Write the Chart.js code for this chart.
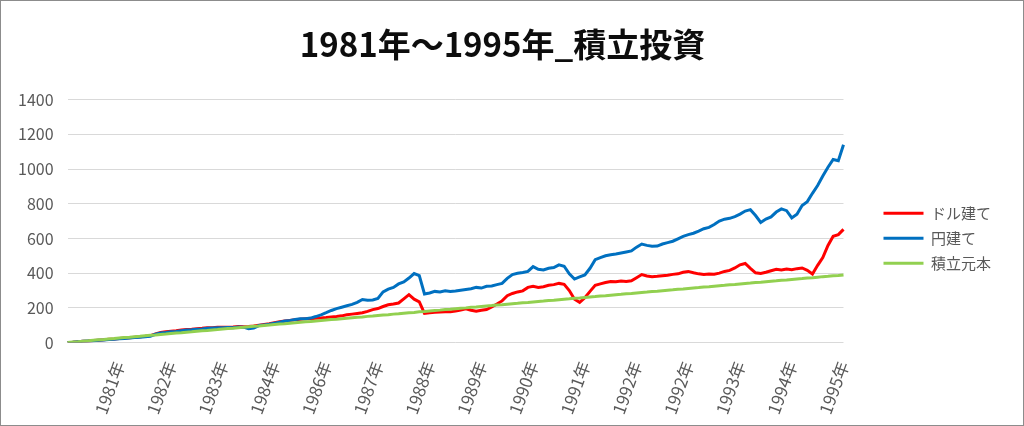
<!DOCTYPE html>
<html>
<head>
<meta charset="utf-8">
<script src="https://cdn.jsdelivr.net/npm/chart.js@4"></script>
<style>
  body { margin: 0; background: #fff; }
  #wrap { width: 1024px; height: 426px; box-sizing: border-box; border: 1px solid #8c8c8c; }
</style>
</head>
<body>
<div id="wrap"><canvas id="chart" width="1022" height="424"></canvas></div>
<script>
// x axis: one category per point, a year label on every 10th point
const yearLabels = ["1981年", "1982年", "1983年", "1984年", "1986年", "1987年", "1988年", "1989年",
  "1990年", "1991年", "1992年", "1992年", "1993年", "1994年", "1995年"];

const dollarValues = [
  0, 2, 5, 7, 9, 12, 14, 16, 19, 21,
  24, 26, 28, 31, 33, 36, 40, 50, 58, 62,
  65, 68, 72, 75, 77, 80, 82, 85, 86, 88,
  88, 89, 90, 92, 91, 92, 95, 100, 104, 108,
  114, 120, 124, 128, 131, 134, 137, 138, 140, 141,
  144, 148, 150, 154, 160, 164, 168, 172, 180, 190,
  196, 208, 218, 222, 228, 252, 276, 250, 235, 168,
  172, 175, 176, 178, 177, 182, 188, 195, 186, 180,
  186, 190, 205, 222, 240, 270, 283, 292, 298, 318,
  324, 318, 322, 330, 334, 341, 336, 300, 250, 232,
  258, 295, 330, 338, 346, 352, 350, 355, 352, 356,
  374, 392, 384, 380, 382, 385, 388, 393, 396, 405,
  410, 402, 396, 392, 395, 394, 400, 410, 416, 430,
  448, 456, 428, 402, 398, 405, 414, 422, 418, 424,
  420, 426, 430, 416, 395, 445, 490, 560, 612, 622,
  652
];

const yenValues = [
  0, 2, 5, 7, 9, 11, 14, 15, 18, 19,
  22, 24, 26, 29, 31, 33, 37, 48, 55, 58,
  62, 64, 68, 72, 74, 77, 79, 82, 84, 86,
  85, 87, 86, 90, 89, 80, 84, 98, 102, 106,
  112, 118, 124, 128, 133, 137, 138, 141, 150, 160,
  172, 185, 196, 204, 212, 220, 232, 248, 244, 246,
  254, 292, 308, 318, 338, 350, 372, 398, 386, 280,
  286, 295, 292, 298, 294, 297, 302, 306, 310, 318,
  314, 324, 326, 334, 341, 370, 392, 399, 404, 410,
  438, 422, 418, 428, 432, 448, 440, 396, 366, 378,
  390, 428, 478, 490, 500, 506, 510, 516, 522, 528,
  550, 568, 560, 555, 556, 568, 576, 584, 598, 612,
  622, 630, 642, 656, 664, 680, 700, 711, 716, 726,
  740, 758, 766, 732, 692, 712, 724, 752, 770, 760,
  718, 740, 790, 812, 860, 905, 960, 1010, 1055, 1048,
  1140
];

const principalValues = [
  0, 3, 5, 8, 10, 13, 16, 18, 21, 23,
  26, 29, 31, 34, 36, 39, 42, 44, 47, 49,
  52, 55, 57, 60, 62, 65, 68, 70, 73, 75,
  78, 81, 83, 86, 88, 91, 94, 96, 99, 101,
  104, 107, 109, 112, 114, 117, 120, 122, 125, 127,
  130, 133, 135, 138, 140, 143, 146, 148, 151, 153,
  156, 159, 161, 164, 166, 169, 172, 174, 177, 179,
  182, 185, 187, 190, 192, 195, 198, 200, 203, 205,
  208, 211, 213, 216, 218, 221, 224, 226, 229, 231,
  234, 237, 239, 242, 244, 247, 250, 252, 255, 257,
  260, 263, 265, 268, 270, 273, 276, 278, 281, 283,
  286, 289, 291, 294, 296, 299, 302, 304, 307, 309,
  312, 315, 317, 320, 322, 325, 328, 330, 333, 335,
  338, 341, 343, 346, 348, 351, 354, 356, 359, 361,
  364, 367, 369, 372, 374, 377, 380, 382, 385, 387,
  390
];

const FONT = "'Noto Sans CJK JP', 'Noto Sans', sans-serif";
const labels = dollarValues.map((v, i) => i);

new Chart(document.getElementById("chart"), {
  type: "line",
  data: {
    labels: labels,
    datasets: [
      { label: "ドル建て", data: dollarValues, borderColor: "#ff0000", backgroundColor: "#ff0000", borderWidth: 3, order: 2 },
      { label: "円建て", data: yenValues, borderColor: "#0070c0", backgroundColor: "#0070c0", borderWidth: 3, order: 1 },
      { label: "積立元本", data: principalValues, borderColor: "#92d050", backgroundColor: "#92d050", borderWidth: 3, order: 0 }
    ]
  },
  options: {
    responsive: false,
    animation: false,
    layout: { padding: { left: 3, right: 22, top: 0, bottom: 0 } },
    elements: {
      point: { radius: 0 },
      line: { tension: 0 }
    },
    scales: {
      x: {
        grid: { display: false },
        border: { display: false },
        ticks: {
          autoSkip: false,
          minRotation: 70,
          maxRotation: 70,
          padding: 8,
          color: "#595959",
          font: { family: FONT, size: 17 },
          callback: (v, i) => (i > 0 && i % 10 === 0 ? yearLabels[i / 10 - 1] : "")
        }
      },
      y: {
        min: 0,
        max: 1400,
        ticks: {
          stepSize: 200,
          padding: 14,
          color: "#595959",
          font: { family: FONT, size: 16 },
          callback: v => String(v)
        },
        grid: { color: "#d9d9d9", drawTicks: false },
        border: { display: false }
      },
      // empty axis that keeps a gap between the plot and the legend
      gap: {
        position: "right",
        display: true,
        grid: { display: false },
        border: { display: false },
        ticks: { display: false },
        afterFit: s => { s.width = 30; }
      }
    },
    plugins: {
      title: {
        display: true,
        text: "1981年～1995年_積立投資",
        color: "#0d0d0d",
        font: { family: FONT, size: 33, weight: "bold" },
        padding: { top: 24, bottom: 35 }
      },
      legend: {
        position: "right",
        title: { display: true, text: "", font: { size: 12 }, padding: { top: 36, bottom: 0 } },
        labels: {
          usePointStyle: true,
          pointStyle: "line",
          pointStyleWidth: 40,
          padding: 10,
          color: "#595959",
          font: { family: FONT, size: 15 },
          sort: (a, b) => a.datasetIndex - b.datasetIndex
        }
      },
      tooltip: { enabled: false }
    }
  }
});
</script>
</body>
</html>
